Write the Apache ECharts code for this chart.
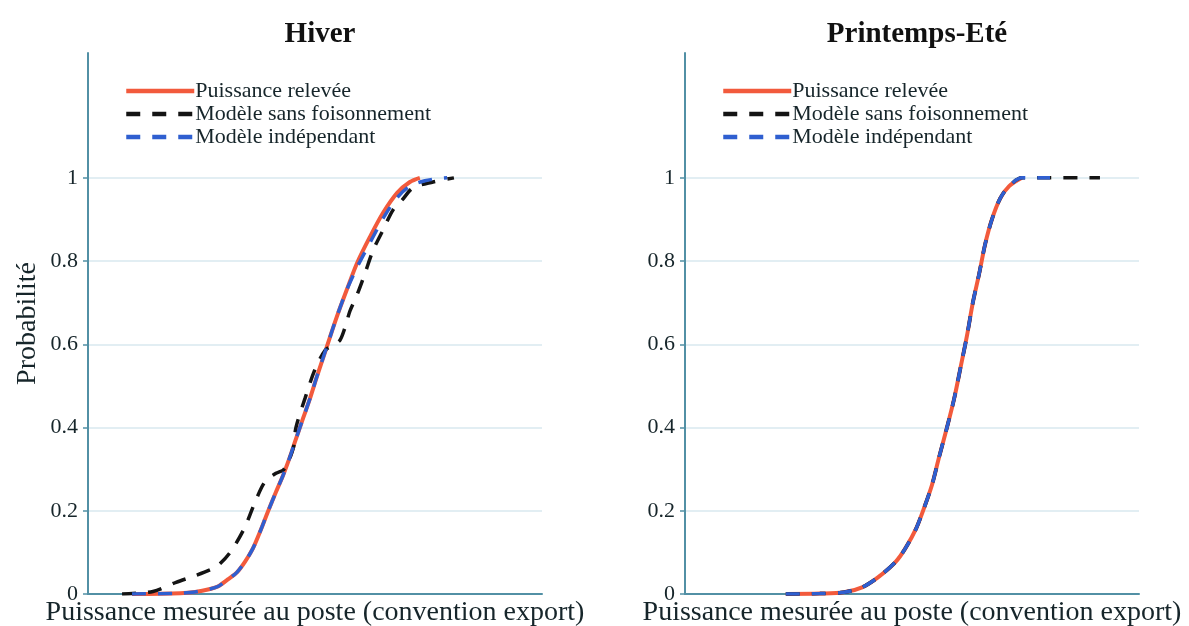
<!DOCTYPE html>
<html><head><meta charset="utf-8">
<script src="https://cdn.jsdelivr.net/npm/echarts@6/dist/echarts.min.js"></script>
<style>html,body{margin:0;padding:0;background:#fff}#c{width:1189px;height:626px}</style>
</head><body><div id="c"></div>
<script>
// ---- data ----
const seriesNames = ['Puissance relevée', 'Modèle sans foisonnement', 'Modèle indépendant'];
const panelTitles = ['Hiver', 'Printemps-Eté'];
const xAxisName = 'Puissance mesurée au poste (convention export)';
const yAxisName = 'Probabilité';
const yTickValues = [0, 0.2, 0.4, 0.6, 0.8, 1];

// Hiver : [puissance (unités normalisées 0-100), probabilité cumulée]
const hiverReleve = [[9.7,0],[20.3,0.002],[23.6,0.005],[26.9,0.012],[28.6,0.018],[30.8,0.035],[32.8,0.052],[34.6,0.078],[36.3,0.109],[38.1,0.155],[39.6,0.197],[41.4,0.245],[43.0,0.286],[44.5,0.33],[45.6,0.366],[47.4,0.423],[48.9,0.47],[50.4,0.522],[52.6,0.594],[54.8,0.666],[57.0,0.731],[59.3,0.796],[62.1,0.858],[65.0,0.916],[68.1,0.964],[70.9,0.99],[73.1,1.0]];
const hiverSansFoison = [[7.5,0],[14.3,0.006],[19.4,0.028],[23.6,0.044],[26.9,0.058],[28.6,0.068],[31.3,0.1],[34.4,0.157],[36.8,0.221],[39.0,0.27],[41.4,0.29],[43.2,0.3],[45.2,0.35],[45.8,0.4],[47.8,0.47],[50.0,0.54],[52.2,0.585],[54.0,0.598],[55.5,0.61],[56.6,0.64],[57.7,0.68],[59.3,0.72],[61.0,0.77],[62.8,0.826],[65.0,0.875],[67.2,0.923],[69.2,0.947],[71.6,0.976],[76.0,0.99],[80.6,1.0]];
const hiverIndep = [[9.7,0],[20.3,0.002],[23.6,0.005],[26.9,0.012],[28.6,0.018],[30.8,0.035],[32.8,0.052],[34.6,0.078],[36.3,0.109],[38.1,0.155],[39.6,0.197],[41.4,0.245],[43.0,0.286],[44.5,0.33],[45.6,0.366],[47.4,0.423],[48.9,0.47],[50.4,0.522],[52.6,0.594],[54.8,0.666],[57.0,0.731],[59.5,0.79],[62.4,0.85],[65.4,0.91],[68.3,0.955],[70.9,0.98],[74.2,0.993],[76.9,0.998],[79.1,1.0]];

// Printemps-Eté
const eteReleve = [[22.2,0],[29.7,0.001],[35.0,0.004],[39.0,0.016],[42.5,0.04],[46.3,0.076],[48.5,0.109],[50.9,0.157],[52.6,0.205],[54.4,0.262],[55.9,0.326],[57.7,0.4],[59.3,0.47],[60.8,0.55],[62.1,0.62],[63.4,0.7],[64.8,0.77],[66.1,0.84],[67.6,0.9],[69.4,0.95],[71.4,0.98],[74.2,1.0]];
const eteSansFoison = [[22.2,0],[29.7,0.001],[35.0,0.004],[39.0,0.016],[42.5,0.04],[46.3,0.076],[48.5,0.109],[50.9,0.157],[52.6,0.205],[54.4,0.262],[55.9,0.326],[57.7,0.4],[59.3,0.47],[60.8,0.55],[62.1,0.62],[63.4,0.7],[64.8,0.77],[66.1,0.84],[67.6,0.9],[69.4,0.95],[71.4,0.98],[74.2,1.0],[91.4,1.0]];
const eteIndep = [[22.2,0],[29.7,0.001],[35.0,0.004],[39.0,0.016],[42.5,0.04],[46.3,0.076],[48.5,0.109],[50.9,0.157],[52.6,0.205],[54.4,0.262],[55.9,0.326],[57.7,0.4],[59.3,0.47],[60.8,0.55],[62.1,0.62],[63.4,0.7],[64.8,0.77],[66.1,0.84],[67.6,0.9],[69.4,0.95],[71.4,0.98],[74.2,1.0],[80.4,1.0]];

// ---- style ----
const FONT = '"Liberation Serif", "Times New Roman", serif';
const TXT = '#16252a';
const AXIS = '#5290a5';
const GRID = '#d9e8ef';
const colors = ['#f25a3c', '#141414', '#2f5fd0'];
const DASH = [14, 12];

const chart = echarts.init(document.getElementById('c'), null, {renderer: 'canvas'});

const grids = [
  {left: 88, right: 647, top: 53, bottom: 32, outerBoundsMode: 'none', containLabel: false},
  {left: 685, right: 50, top: 53, bottom: 32, outerBoundsMode: 'none', containLabel: false}
];
const titleCenters = [315, 912];

function xAxis(i) {
  return {
    type: 'value', gridIndex: i, min: 0, max: 100,
    name: xAxisName, nameLocation: 'middle', nameGap: 5,
    nameTextStyle: {fontFamily: FONT, fontSize: 28, color: TXT, verticalAlign: 'top'},
    axisLine: {show: true, lineStyle: {color: AXIS, width: 2}},
    axisTick: {show: false}, axisLabel: {show: false}, splitLine: {show: false}
  };
}
function yAxis(i) {
  return {
    type: 'value', gridIndex: i, min: 0, max: 1.3, interval: 0.2,
    name: i === 0 ? yAxisName : '', nameLocation: 'middle', nameGap: 46,
    nameTextStyle: {fontFamily: FONT, fontSize: 28, color: TXT},
    axisLine: {show: true, lineStyle: {color: AXIS, width: 2}},
    axisTick: {show: true, length: 5, inside: false, customValues: yTickValues, lineStyle: {color: AXIS, width: 1.5}},
    axisLabel: {customValues: yTickValues, fontFamily: FONT, fontSize: 22, color: TXT, margin: 10,
      formatter: v => (v > 1.0001 ? '' : String(+v.toFixed(1)))},
    splitLine: {show: true, lineStyle: {color: GRID, width: 1.5}}
  };
}

const panelData = [
  [hiverReleve, hiverSansFoison, hiverIndep],
  [eteReleve, eteSansFoison, eteIndep]
];
const series = [];
panelData.forEach((arr, p) => {
  arr.forEach((d, k) => {
    series.push({
      name: seriesNames[k], type: 'line', xAxisIndex: p, yAxisIndex: p,
      data: d, symbol: 'none', smooth: 0.3, z: 2 + k,
      lineStyle: {color: colors[k], width: k === 0 ? 4 : 3.5, type: k === 0 ? 'solid' : DASH},
      itemStyle: {color: colors[k]}
    });
  });
});

const option = {
  backgroundColor: '#fff',
  animation: false,
  title: panelTitles.map((t, i) => ({
    text: t, left: titleCenters[i], top: 15, textAlign: 'center',
    textStyle: {fontFamily: FONT, fontSize: 29, fontWeight: 'bold', color: '#111'}
  })),
  legend: [0, 1].map(i => ({
    data: seriesNames, orient: 'vertical', left: grids[i].left + 31, top: 75,
    itemWidth: 68, itemHeight: 12, itemGap: 1,
    itemStyle: {opacity: 0, borderWidth: 0},
    lineStyle: {width: 4.5},
    textStyle: {fontFamily: FONT, fontSize: 22, color: TXT, padding: [0, 0, 0, -4]},
    selectedMode: false
  })),
  grid: grids,
  xAxis: [xAxis(0), xAxis(1)],
  yAxis: [yAxis(0), yAxis(1)],
  series: series
};
chart.setOption(option);
</script>
</body></html>
